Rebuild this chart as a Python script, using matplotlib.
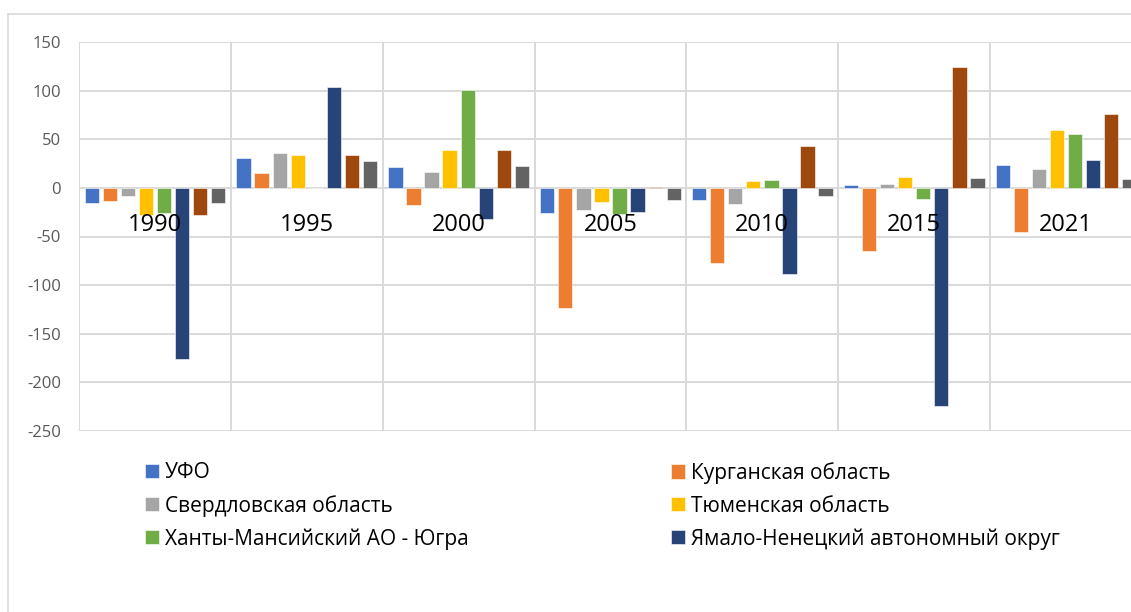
import numpy as np
import matplotlib
matplotlib.use("Agg")
import matplotlib.pyplot as plt
from matplotlib.lines import Line2D

plt.rcParams["font.family"] = ["Open Sans", "DejaVu Sans"]
plt.rcParams["axes.unicode_minus"] = False

years = ["1990", "1995", "2000", "2005", "2010", "2015", "2021"]
series_names = [
    "УФО",
    "Курганская область",
    "Свердловская область",
    "Тюменская область",
    "Ханты-Мансийский АО - Югра",
    "Ямало-Ненецкий автономный округ",
    "Челябинская область",
    "Тюменская область без АО",
]
colors = ["#4472C4", "#ED7D31", "#A5A5A5", "#FFC000",
          "#70AD47", "#264478", "#9E480E", "#636363"]

ufo = [-16, 31, 21, -26, -12, 3, 24]
kurgan = [-13, 15, -18, -124, -77, -65, -45]
sverdl = [-8, 36, 16, -23, -17, 4, 19]
tyumen = [-28, 34, 39, -15, 7, 11, 60]
hmao = [-26, 0, 101, -27, 8, -11, 55]
yanao = [-176, 104, -32, -25, -89, -224, 29]
chel = [-28, 34, 39, 0.8, 43, 124, 76]
tyumen_wo = [-16, 28, 23, -12, -8, 10, 9]
values = [ufo, kurgan, sverdl, tyumen, hmao, yanao, chel, tyumen_wo]

W, H = 1131, 612
fig = plt.figure(figsize=(W / 100, H / 100), dpi=100)
ax = fig.add_axes([79 / W, 1 - 431 / H, (1142 - 79) / W, (431 - 42) / H])

x = np.arange(len(years))
pitch = 0.119
width = 0.094
bars = []
for i, (name, vals) in enumerate(zip(series_names, values)):
    b = ax.bar(x + (i - 3.5) * pitch, vals, width=width, color=colors[i],
               edgecolor="white", linewidth=0.4, label=name, zorder=3)
    bars.append(b)

ax.set_xlim(-0.5, len(years) - 0.5)
ax.set_ylim(-250, 150)
ax.set_yticks(np.arange(-250, 151, 50))
ax.set_xticks(np.arange(-0.5, len(years)), minor=True)
ax.set_xticks([])
ax.tick_params(axis="y", length=0, pad=13, labelsize=12, labelcolor="#595959")
ax.tick_params(axis="x", which="both", length=0)
ax.grid(axis="y", color="#D9D9D9", linewidth=1.4, zorder=0)
ax.grid(axis="x", which="minor", color="#D9D9D9", linewidth=1.4, zorder=0)
ax.set_axisbelow(True)
for s in ax.spines.values():
    s.set_visible(False)

# category labels just below the zero line
for xi, yr in zip(x, years):
    ax.annotate(yr, xy=(xi, 0), xytext=(0, -31), textcoords="offset points",
                ha="center", va="baseline", fontsize=17, color="black", zorder=5)

# legend: two columns, row-major order as in the original
leg_kw = dict(frameon=False, fontsize=15, handlelength=0.67, handleheight=0.67,
              handletextpad=0.3, labelspacing=0.56, borderpad=0, borderaxespad=0,
              loc="upper left")
l1 = fig.legend([bars[0], bars[2], bars[4]],
                [series_names[0], series_names[2], series_names[4]],
                bbox_to_anchor=(145 / W, 1 - 462 / H), **leg_kw)
l2 = fig.legend([bars[1], bars[3], bars[5]],
                [series_names[1], series_names[3], series_names[5]],
                bbox_to_anchor=(671 / W, 1 - 462 / H), **leg_kw)

# chart area border (partly cut off)
fig.add_artist(Line2D([8 / W, 1.0], [1 - 14 / H, 1 - 14 / H],
                      transform=fig.transFigure, color="#D9D9D9", lw=1.2))
fig.add_artist(Line2D([8 / W, 8 / W], [0, 1 - 14 / H],
                      transform=fig.transFigure, color="#D9D9D9", lw=1.2))

fig.savefig("out.png", dpi=100)
